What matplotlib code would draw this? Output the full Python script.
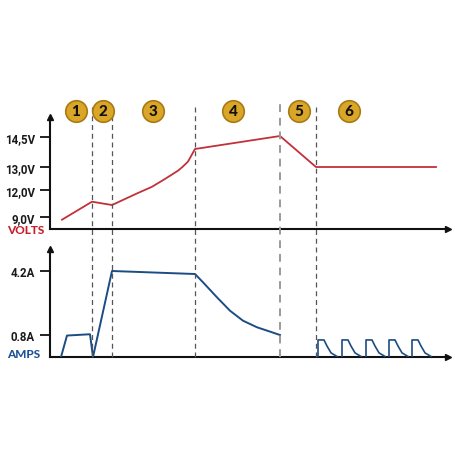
import numpy as np
import matplotlib
matplotlib.use("Agg")
import matplotlib.pyplot as plt
from matplotlib.lines import Line2D
from matplotlib.transforms import blended_transform_factory

# ---------------- data ----------------
phase_labels = ["1", "2", "3", "4", "5", "6"]
phase_bounds = [42, 62, 145, 230, 266]          # time of stage changes
phase_label_t = [26, 53, 103, 183, 249, 299]    # where the stage numbers sit

volt_ticks = [9.0, 12.0, 13.0, 14.5]
volt_tick_labels = ["9,0V", "12,0V", "13,0V", "14,5V"]
volt_t = [12, 42, 62, 75, 88, 102, 115, 128, 132.4, 138, 145, 230, 266, 386]
volt_v = [8.7, 10.7, 10.33, 11.0, 11.67, 12.14, 12.48, 12.84, 13.0, 13.27, 13.9, 14.55, 13.0, 13.0]

amp_ticks = [0.8, 4.2]
amp_tick_labels = ["0.8A", "4.2A"]
amp_t = [11, 17, 40, 43, 62, 145, 153, 167, 180, 193, 207, 220, 230]
amp_a = [0.0, 0.78, 0.84, 0.0, 4.2, 4.04, 3.60, 2.80, 2.09, 1.56, 1.21, 0.98, 0.8]

pulse_starts = [268, 292, 316, 339, 362]
pulse_dt = [0, 0, 6, 9, 13, 19]
pulse_a = [0.0, 0.62, 0.62, 0.40, 0.15, 0.02]

# ---------------- layout ----------------
W = H = 456
fig = plt.figure(figsize=(W / 100, H / 100), dpi=100)
fig.patch.set_facecolor("white")

def fx(px):
    return px / W

def fy(py):
    return 1 - py / H

X0, X1 = 50, 448
top_b, top_t = 230, 118
bot_b, bot_t = 358, 250

ax1 = fig.add_axes([fx(X0), fy(top_b), fx(X1 - X0), (top_b - top_t) / H])
ax2 = fig.add_axes([fx(X0), fy(bot_b), fx(X1 - X0), (bot_b - bot_t) / H])

# nonlinear (piecewise) axis scales as in the original drawing
v_anchor = [-100.0, 9.0, 12.0, 13.0, 14.5, 100.0]
v_pos = [12 - 109 * 9, 12, 39, 62, 92, 92 + 85.5 * 20]
a_anchor = [-100.0, 0.0, 0.8, 4.2, 100.0]
a_pos = [-2750.0, 0, 22, 86, 86 + 95.8 * 18.8]

def make_funcs(anc, pos):
    anc = np.array(anc, float)
    pos = np.array(pos, float)
    return (lambda v: np.interp(v, anc, pos), lambda p: np.interp(p, pos, anc))

vf, vi = make_funcs(v_anchor, v_pos)
af, ai = make_funcs(a_anchor, a_pos)
ax1.set_yscale("function", functions=(vf, vi))
ax2.set_yscale("function", functions=(af, ai))
ax1.set_ylim(float(vi(0)), float(vi(top_b - top_t)))
ax2.set_ylim(float(ai(0)), float(ai(bot_b - bot_t)))
for ax in (ax1, ax2):
    ax.set_xlim(0, X1 - X0)

red = "#c2303a"
blue = "#1c4c84"

ax1.plot(volt_t, volt_v, color=red, lw=1.3, solid_joinstyle="round", zorder=3)
ax2.plot(amp_t, amp_a, color=blue, lw=1.4, solid_joinstyle="round", zorder=3)
for s in pulse_starts:
    ax2.plot([s + d for d in pulse_dt], pulse_a, color=blue, lw=1.2, zorder=3)

tick_font = dict(family=["Liberation Sans Narrow", "Roboto", "DejaVu Sans"], weight="bold", size=8.3)
for ax, ticks, labels in ((ax1, volt_ticks, volt_tick_labels), (ax2, amp_ticks, amp_tick_labels)):
    ax.set_yticks(ticks)
    ax.set_yticklabels(labels, fontdict=tick_font, color="#1a1a1a")
    ax.yaxis.set_minor_locator(matplotlib.ticker.NullLocator())
    ax.set_xticks([])
    ax.tick_params(axis="y", direction="out", length=7, width=1.3, pad=4, color="#111111")
    for sp in ("top", "right"):
        ax.spines[sp].set_visible(False)
    for sp in ("left", "bottom"):
        ax.spines[sp].set_linewidth(1.5)
        ax.spines[sp].set_color("#111111")
    ax.set_facecolor("none")
    # arrow heads
    ax.plot([0], [1], marker="^", ms=4, color="#111111", transform=ax.transAxes, clip_on=False)
    ax.plot([1], [0], marker=">", ms=4, color="#111111", transform=ax.transAxes, clip_on=False)

# dashed stage separators spanning both panels
trans = blended_transform_factory(ax1.transData, fig.transFigure)
for i, t in enumerate(phase_bounds):
    col = "#9a9a9a" if i == 3 else "#555555"
    lw = 1.4 if i == 3 else 0.9
    fig.add_artist(Line2D([t, t], [fy(358), fy(105)], transform=trans, color=col,
                          lw=lw, ls=(0, (4, 3)), zorder=1))

heavy = ["Lato", "Open Sans", "DejaVu Sans"]
# stage number badges
for lab, t in zip(phase_labels, phase_label_t):
    fig.add_artist(Line2D([t], [fy(112)], transform=trans, marker="o", ms=15.5,
                          mfc="#d9a628", mec="#a87a14", mew=1.2, zorder=5))
    fig.text(t, fy(112.5), lab, transform=trans, ha="center", va="center",
             fontsize=11, fontweight="black", family=heavy, color="#111111", zorder=6)

fig.text(fx(7), fy(231), "VOLTS", color="#c8202a", fontsize=8.5, fontweight="black",
         family=heavy, ha="left", va="center")
fig.text(fx(7), fy(355), "AMPS", color="#1f5494", fontsize=8.5, fontweight="black",
         family=heavy, ha="left", va="center")

fig.savefig("out.png", dpi=100, facecolor="white")
